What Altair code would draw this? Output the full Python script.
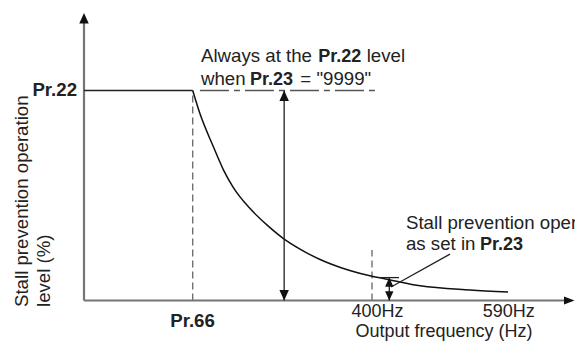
import altair as alt
import pandas as pd

# --- data (x in Hz, y in % of the Pr.22 level) ---
curve_hz = [151, 161, 180, 194, 207, 230, 254, 277, 300, 328, 342, 400, 424, 467, 536, 589]
curve_lvl = [100, 89, 73, 62, 54, 44, 36, 29.5, 24.5, 19.5, 17.5, 11.5, 9.9, 7.0, 5.0, 4.0]

pr66_hz = 151
pr22_lvl = 100
f400 = 400
arrow_hz = 278
small_hz = 424
pr23_lvl = 10.9

FONT = "Liberation Sans"
FS = 18.67

xs = alt.Scale(domain=[-105.56, 681.94], nice=False, zero=False)
ys = alt.Scale(domain=[-19.29, 139.29], nice=False, zero=False)


def rules(rows, color, width, dash=None):
    df = pd.DataFrame(rows, columns=["x", "y", "x2", "y2"])
    kw = dict(color=color, strokeWidth=width)
    if dash:
        kw["strokeDash"] = dash
    return alt.Chart(df).mark_rule(**kw).encode(
        x=alt.X("x:Q", scale=xs, axis=None),
        y=alt.Y("y:Q", scale=ys, axis=None),
        x2="x2:Q",
        y2="y2:Q",
    )


axes = rules([[0, 0, 0, 133.6], [0, 0, 669, 0]], "#757575", 2.2)
solid = rules(
    [
        [0, pr22_lvl, pr66_hz, pr22_lvl],
        [arrow_hz, 0, arrow_hz, pr22_lvl],
        [small_hz, 0, small_hz, pr23_lvl],
        [411, pr23_lvl, 437.5, pr23_lvl],
        [426.4, 6.4, 508.3, 22.1],
    ],
    "#222222",
    1.3,
)
dashed = rules([[pr66_hz, 0, pr66_hz, pr22_lvl], [f400, 0, f400, 24]], "#666666", 1.3, [7, 4])
dashdot = rules([[161, pr22_lvl, 408, pr22_lvl]], "#555555", 1.3, [29, 5, 6, 5])

curve = alt.Chart(pd.DataFrame({"x": curve_hz, "y": curve_lvl})).mark_line(
    color="#111111", strokeWidth=1.5, interpolate="monotone"
).encode(x=alt.X("x:Q", scale=xs, axis=None), y=alt.Y("y:Q", scale=ys, axis=None))

paths = {
    "up": "M0,0L-1,2.2L1,2.2Z",
    "down": "M0,0L-1,-2.2L1,-2.2Z",
    "right": "M0,0L-2.2,-0.85L-2.2,0.85Z",
}


def heads(rows, size):
    df = pd.DataFrame(rows, columns=["x", "y", "d"])
    return alt.Chart(df).mark_point(filled=True, opacity=1, color="#111111", strokeWidth=0).encode(
        x=alt.X("x:Q", scale=xs, axis=None),
        y=alt.Y("y:Q", scale=ys, axis=None),
        shape=alt.Shape("d:N", scale=alt.Scale(domain=list(paths), range=list(paths.values())), legend=None),
        size=alt.value(size),
    )


big_heads = heads([[0, 136.9, "up"], [681.2, 0, "right"], [arrow_hz, pr22_lvl, "up"], [arrow_hz, 0, "down"]], 90)
small_heads = heads([[small_hz, pr23_lvl, "up"], [small_hz, 0, "down"]], 70)


def texts(rows, align, weight, angle=0, size=FS):
    df = pd.DataFrame(rows, columns=["t", "x", "y"])
    return alt.Chart(df).mark_text(
        align=align, baseline="alphabetic", font=FONT, fontSize=size, fontWeight=weight,
        color="#222222", angle=angle,
    ).encode(x=alt.X("x:Q", scale=xs, axis=None), y=alt.Y("y:Q", scale=ys, axis=None), text="t:N")


normal_left = texts(
    [
        ["Always at the", 162.5, 113.6],
        ["level", 392.6, 113.6],
        ["when", 162.5, 102.5],
        ['= "9999"', 300.5, 102.5],
        ["Stall prevention operation level", 447.2, 33.9],
        ["as set in", 447.2, 24.0],
    ],
    "left", "normal",
)
normal_center = texts(
    [["400Hz", 407.6, -7.86], ["590Hz", 590.0, -7.86], ["Output frequency (Hz)", 500, -17.38]],
    "center", "normal", size=18,
)
bold_left = texts([["Pr.22", 325.4, 113.6], ["Pr.23", 230.5, 102.5], ["Pr.23", 550, 24.0]], "left", "bold", size=18)
bold_center = texts([["Pr.66", 150.7, -12.6]], "center", "bold")
bold_right = texts([["Pr.22", -9.7, 97.4]], "right", "bold")
ylabel = texts([["Stall prevention operation", -77.8, -3.1], ["level (%)", -47.9, -3.1]], "left", "normal", 270)

chart = alt.layer(
    dashed, dashdot, axes, curve, solid, big_heads, small_heads,
    normal_left, normal_center, bold_left, bold_center, bold_right, ylabel,
).properties(
    width=567, height=333, autosize=alt.AutoSizeParams(type="none"), padding=0
).configure(background="white").configure_view(strokeWidth=0, stroke=None)

chart.save("out.html", embed_options={"renderer": "svg", "actions": False})
